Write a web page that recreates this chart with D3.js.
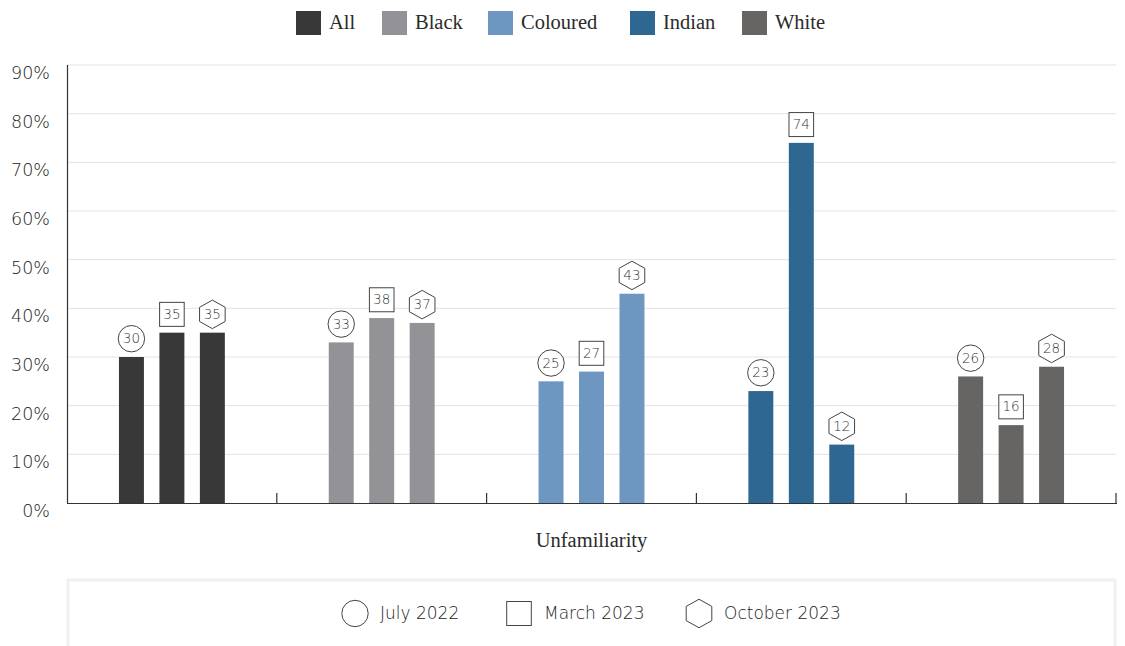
<!DOCTYPE html>
<html><head><meta charset="utf-8">
<script src="https://cdn.jsdelivr.net/npm/d3@7"></script>
<style>
body{margin:0;background:#fff;}
svg{display:block;}
</style></head>
<body>
<svg id="chart" width="1125" height="646"></svg>
<script>
const groups = ["All","Black","Coloured","Indian","White"];
const periods = ["July 2022","March 2023","October 2023"];
const shapes = ["circle","square","hexagon"];
const valAll = [30,35,35];
const valBlack = [33,38,37];
const valColoured = [25,27,43];
const valIndian = [23,74,12];
const valWhite = [26,16,28];
const colors = ["#383838","#939397","#6d96c1","#2e6892","#676563"];
const yTicks = [0,10,20,30,40,50,60,70,80,90];
const xTitle = "Unfamiliarity";

const values = [valAll,valBlack,valColoured,valIndian,valWhite];
const data = [];
groups.forEach((g,i)=>periods.forEach((p,j)=>data.push({group:g,period:p,shape:shapes[j],value:values[i][j],color:colors[i]})));

const svg = d3.select("#chart");
const pLeft=67,pRight=1116,pTop=65,pBottom=503;
const sansFont = "'DejaVu Sans', 'Noto Sans', sans-serif";
const serifFont = "'Liberation Serif', 'DejaVu Serif', serif";

const y = d3.scaleLinear().domain([0,90]).range([pBottom,pTop]);
const x0 = d3.scaleBand().domain(groups).range([pLeft,pRight]).padding(0);
const x1 = d3.scaleBand().domain(periods).range([0,x0.bandwidth()]).paddingInner(0.383).paddingOuter(1.284);

// gridlines
svg.append("g").selectAll("line").data(yTicks.filter(d=>d>0)).join("line")
  .attr("x1",pLeft).attr("x2",pRight).attr("y1",d=>y(d)).attr("y2",d=>y(d))
  .attr("stroke","#e3e3e3").attr("stroke-width",1);

// y labels
svg.append("g").selectAll("text").data(yTicks).join("text")
  .attr("x",50).attr("y",d=>y(d)+9).attr("text-anchor","end").attr("dominant-baseline","middle")
  .attr("font-family",sansFont).attr("font-weight",200).attr("font-size",17.5).attr("fill","#222")
  .text(d=>d+"%");

// bars
svg.append("g").selectAll("rect").data(data).join("rect")
  .attr("x",d=>x0(d.group)+x1(d.period)).attr("width",x1.bandwidth())
  .attr("y",d=>y(d.value)).attr("height",d=>y(0)-y(d.value))
  .attr("fill",d=>d.color);

// axes lines
svg.append("line").attr("x1",pLeft+0.5).attr("x2",pLeft+0.5).attr("y1",pTop).attr("y2",pBottom).attr("stroke","#333").attr("stroke-width",1.2);
svg.append("line").attr("x1",pLeft).attr("x2",pRight+1).attr("y1",pBottom+0.5).attr("y2",pBottom+0.5).attr("stroke","#333").attr("stroke-width",1.2);
svg.append("g").selectAll("line").data(groups).join("line")
  .attr("x1",d=>x0(d)+x0.bandwidth()).attr("x2",d=>x0(d)+x0.bandwidth())
  .attr("y1",pBottom-10).attr("y2",pBottom).attr("stroke","#333").attr("stroke-width",1.2);

function hexPath(cx,cy,w,h){
  const hw=w/2, hh=h/2, q=h/4;
  return `M${cx},${cy-hh}L${cx+hw},${cy-q}L${cx+hw},${cy+q}L${cx},${cy+hh}L${cx-hw},${cy+q}L${cx-hw},${cy-q}Z`;
}
function drawShape(g,shape,cx,cy){
  if(shape==="circle") g.append("circle").attr("cx",cx).attr("cy",cy).attr("r",13.2).attr("fill","#fff").attr("stroke","#444").attr("stroke-width",1);
  else if(shape==="square") g.append("rect").attr("x",cx-12.3).attr("y",cy-12).attr("width",24.6).attr("height",24).attr("fill","#fff").attr("stroke","#444").attr("stroke-width",1);
  else g.append("path").attr("d",hexPath(cx,cy,25.6,28.5)).attr("fill","#fff").attr("stroke","#444").attr("stroke-width",1);
}

// value labels
const lbl = svg.append("g");
data.forEach(d=>{
  const cx = x0(d.group)+x1(d.period)+x1.bandwidth()/2;
  const cy = y(d.value)-18.3;
  const g = lbl.append("g");
  drawShape(g,d.shape,cx,cy);
  g.append("text").attr("x",cx).attr("y",cy+0.5).attr("text-anchor","middle").attr("dominant-baseline","middle")
    .attr("font-family",sansFont).attr("font-weight",200).attr("font-size",13.5).attr("fill","#333").text(d.value);
});

// x title
svg.append("text").attr("x",(pLeft+pRight)/2).attr("y",547).attr("text-anchor","middle")
  .attr("font-family",serifFont).attr("font-size",20.5).attr("fill","#2a2a2a").text(xTitle);

// top legend
const legX = [296,382,488,630,742];
const tl = svg.append("g");
groups.forEach((g,i)=>{
  tl.append("rect").attr("x",legX[i]).attr("y",11).attr("width",25).attr("height",24).attr("fill",colors[i]);
  tl.append("text").attr("x",legX[i]+33).attr("y",29).attr("font-family",serifFont).attr("font-size",20.5).attr("fill","#2a2a2a").text(g);
});

// bottom legend box
svg.append("rect").attr("x",pLeft+1).attr("y",580).attr("width",pRight-pLeft-2).attr("height",80)
  .attr("fill","#fff").attr("stroke","#f0f0f0").attr("stroke-width",3);
const blX = [355,519,699];
const bl = svg.append("g");
periods.forEach((p,i)=>{
  drawShape(bl,shapes[i],blX[i],613.5);
  bl.append("text").attr("x",blX[i]+25).attr("y",614).attr("dominant-baseline","middle")
    .attr("font-family",sansFont).attr("font-weight",200).attr("font-size",17).attr("fill","#222").text(p);
});
</script>
</body></html>
